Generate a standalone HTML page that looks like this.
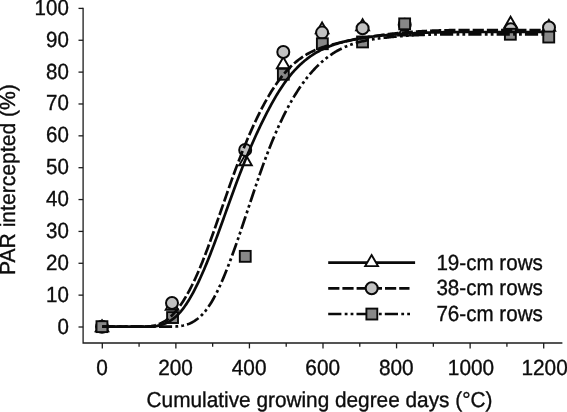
<!DOCTYPE html>
<html><head><meta charset="utf-8"><title>PAR intercepted</title>
<style>
html,body{margin:0;padding:0;background:#fff;}
body{width:567px;height:412px;overflow:hidden;font-family:"Liberation Sans",sans-serif;}
svg{display:block;will-change:transform;opacity:0.999;}
text{font-family:"Liberation Sans",sans-serif;fill:#0c0c0c;stroke:#0c0c0c;stroke-width:0.35px;text-rendering:geometricPrecision;}
</style></head><body>
<svg width="567" height="412" viewBox="0 0 567 412">
<rect width="567" height="412" fill="#fff"/>
<g stroke="#1c1c1c" stroke-width="1.3" fill="none">
<path d="M83.1,7.8 L83.1,343.0 L562.4,343.0"/>
<path d="M78.5,327.00 L83.1,327.00"/>
<path d="M78.5,295.14 L83.1,295.14"/>
<path d="M78.5,263.28 L83.1,263.28"/>
<path d="M78.5,231.42 L83.1,231.42"/>
<path d="M78.5,199.56 L83.1,199.56"/>
<path d="M78.5,167.70 L83.1,167.70"/>
<path d="M78.5,135.84 L83.1,135.84"/>
<path d="M78.5,103.98 L83.1,103.98"/>
<path d="M78.5,72.12 L83.1,72.12"/>
<path d="M78.5,40.26 L83.1,40.26"/>
<path d="M78.5,8.40 L83.1,8.40"/>
<path d="M102.30,343.0 L102.30,348.4"/>
<path d="M139.08,343.0 L139.08,346.8"/>
<path d="M175.87,343.0 L175.87,348.4"/>
<path d="M212.65,343.0 L212.65,346.8"/>
<path d="M249.43,343.0 L249.43,348.4"/>
<path d="M286.21,343.0 L286.21,346.8"/>
<path d="M323.00,343.0 L323.00,348.4"/>
<path d="M359.78,343.0 L359.78,346.8"/>
<path d="M396.56,343.0 L396.56,348.4"/>
<path d="M433.35,343.0 L433.35,346.8"/>
<path d="M470.13,343.0 L470.13,348.4"/>
<path d="M506.91,343.0 L506.91,346.8"/>
<path d="M543.70,343.0 L543.70,348.4"/>
</g>
<text transform="translate(68.80,333.50) scale(0.94,1)" font-size="21.8" text-anchor="end">0</text>
<text transform="translate(68.80,301.64) scale(0.94,1)" font-size="21.8" text-anchor="end">10</text>
<text transform="translate(68.80,269.78) scale(0.94,1)" font-size="21.8" text-anchor="end">20</text>
<text transform="translate(68.80,237.92) scale(0.94,1)" font-size="21.8" text-anchor="end">30</text>
<text transform="translate(68.80,206.06) scale(0.94,1)" font-size="21.8" text-anchor="end">40</text>
<text transform="translate(68.80,174.20) scale(0.94,1)" font-size="21.8" text-anchor="end">50</text>
<text transform="translate(68.80,142.34) scale(0.94,1)" font-size="21.8" text-anchor="end">60</text>
<text transform="translate(68.80,110.48) scale(0.94,1)" font-size="21.8" text-anchor="end">70</text>
<text transform="translate(68.80,78.62) scale(0.94,1)" font-size="21.8" text-anchor="end">80</text>
<text transform="translate(68.80,46.76) scale(0.94,1)" font-size="21.8" text-anchor="end">90</text>
<text transform="translate(68.80,14.90) scale(0.94,1)" font-size="21.8" text-anchor="end">100</text>
<text transform="translate(102.00,374.90) scale(0.955,1)" font-size="21.8" text-anchor="middle">0</text>
<text transform="translate(175.57,374.90) scale(0.955,1)" font-size="21.8" text-anchor="middle">200</text>
<text transform="translate(249.13,374.90) scale(0.955,1)" font-size="21.8" text-anchor="middle">400</text>
<text transform="translate(322.70,374.90) scale(0.955,1)" font-size="21.8" text-anchor="middle">600</text>
<text transform="translate(396.26,374.90) scale(0.955,1)" font-size="21.8" text-anchor="middle">800</text>
<text transform="translate(471.03,374.90) scale(0.955,1)" font-size="21.8" text-anchor="middle">1000</text>
<text transform="translate(544.60,374.90) scale(0.955,1)" font-size="21.8" text-anchor="middle">1200</text>
<text transform="translate(319.50,407.40) scale(0.963,1)" font-size="21.6" text-anchor="middle">Cumulative growing degree days (°C)</text>
<text transform="translate(15.30,179.60) rotate(-90) scale(0.969,1)" font-size="21.8" text-anchor="middle">PAR intercepted (%)</text>
<path d="M102.0,320.3 L108.3,331.3 L95.7,331.3 Z" fill="#fff" stroke="#0a0a0a" stroke-width="1.9" stroke-linejoin="miter"/>
<path d="M172.0,298.8 L178.3,309.8 L165.7,309.8 Z" fill="#fff" stroke="#0a0a0a" stroke-width="1.9" stroke-linejoin="miter"/>
<path d="M245.5,154.3 L251.8,165.3 L239.2,165.3 Z" fill="#fff" stroke="#0a0a0a" stroke-width="1.9" stroke-linejoin="miter"/>
<path d="M283.3,57.2 L289.7,68.2 L276.9,68.2 Z" fill="#fff" stroke="#0a0a0a" stroke-width="1.9" stroke-linejoin="miter"/>
<path d="M322.1,22.4 L328.5,33.4 L315.8,33.4 Z" fill="#fff" stroke="#0a0a0a" stroke-width="1.9" stroke-linejoin="miter"/>
<path d="M362.6,19.2 L369.0,30.2 L356.2,30.2 Z" fill="#fff" stroke="#0a0a0a" stroke-width="1.9" stroke-linejoin="miter"/>
<path d="M404.5,24.6 L410.9,35.6 L398.1,35.6 Z" fill="#fff" stroke="#0a0a0a" stroke-width="1.9" stroke-linejoin="miter"/>
<path d="M510.6,16.7 L517.0,27.7 L504.2,27.7 Z" fill="#fff" stroke="#0a0a0a" stroke-width="1.9" stroke-linejoin="miter"/>
<path d="M548.9,19.9 L555.2,30.9 L542.5,30.9 Z" fill="#fff" stroke="#0a0a0a" stroke-width="1.9" stroke-linejoin="miter"/>
<circle cx="102.0" cy="326.7" r="6.0" fill="#c2c2c2" stroke="#0a0a0a" stroke-width="2.0"/>
<circle cx="172.0" cy="303.0" r="6.0" fill="#c2c2c2" stroke="#0a0a0a" stroke-width="2.0"/>
<circle cx="245.2" cy="149.9" r="6.0" fill="#c2c2c2" stroke="#0a0a0a" stroke-width="2.0"/>
<circle cx="283.3" cy="52.0" r="6.0" fill="#c2c2c2" stroke="#0a0a0a" stroke-width="2.0"/>
<circle cx="322.1" cy="32.6" r="6.0" fill="#c2c2c2" stroke="#0a0a0a" stroke-width="2.0"/>
<circle cx="362.6" cy="28.3" r="6.0" fill="#c2c2c2" stroke="#0a0a0a" stroke-width="2.0"/>
<circle cx="404.7" cy="24.8" r="6.0" fill="#c2c2c2" stroke="#0a0a0a" stroke-width="2.0"/>
<circle cx="510.7" cy="29.3" r="6.0" fill="#c2c2c2" stroke="#0a0a0a" stroke-width="2.0"/>
<circle cx="549.0" cy="27.5" r="6.0" fill="#c2c2c2" stroke="#0a0a0a" stroke-width="2.0"/>
<rect x="96.5" y="321.2" width="10.9" height="10.9" fill="#888" stroke="#0a0a0a" stroke-width="1.9"/>
<rect x="167.1" y="312.1" width="10.9" height="10.9" fill="#888" stroke="#0a0a0a" stroke-width="1.9"/>
<rect x="239.8" y="250.9" width="10.9" height="10.9" fill="#888" stroke="#0a0a0a" stroke-width="1.9"/>
<rect x="277.9" y="68.8" width="10.9" height="10.9" fill="#888" stroke="#0a0a0a" stroke-width="1.9"/>
<rect x="316.9" y="38.3" width="10.9" height="10.9" fill="#888" stroke="#0a0a0a" stroke-width="1.9"/>
<rect x="357.1" y="36.5" width="10.9" height="10.9" fill="#888" stroke="#0a0a0a" stroke-width="1.9"/>
<rect x="399.2" y="18.4" width="10.9" height="10.9" fill="#888" stroke="#0a0a0a" stroke-width="1.9"/>
<rect x="504.9" y="28.8" width="10.9" height="10.9" fill="#888" stroke="#0a0a0a" stroke-width="1.9"/>
<rect x="543.3" y="31.6" width="10.9" height="10.9" fill="#888" stroke="#0a0a0a" stroke-width="1.9"/>
<g fill="none" stroke="#0a0a0a" stroke-width="2.7">
<path d="M102.3,326.70 L103.3,326.70 L104.3,326.70 L105.3,326.70 L106.3,326.70 L107.3,326.70 L108.3,326.69 L109.3,326.68 L110.3,326.68 L111.3,326.67 L112.3,326.67 L113.3,326.66 L114.3,326.66 L115.3,326.66 L116.3,326.65 L117.3,326.65 L118.3,326.65 L119.3,326.65 L120.3,326.65 L121.3,326.65 L122.3,326.65 L123.3,326.65 L124.3,326.65 L125.3,326.65 L126.3,326.65 L127.3,326.65 L128.3,326.65 L129.3,326.65 L130.3,326.65 L131.3,326.65 L132.3,326.65 L133.3,326.65 L134.3,326.65 L135.3,326.65 L136.3,326.65 L137.3,326.65 L138.3,326.65 L139.3,326.65 L140.3,326.65 L141.3,326.65 L142.3,326.65 L143.3,326.65 L144.3,326.65 L145.3,326.65 L146.3,326.65 L147.3,326.65 L148.3,326.65 L149.3,326.65 L150.3,326.65 L151.3,326.65 L152.3,326.65 L153.3,326.65 L154.3,326.65 L155.3,326.65 L156.3,326.65 L157.3,326.65 L158.3,326.65 L159.3,326.65 L160.3,326.65 L161.3,326.65 L162.3,326.65 L163.3,326.65 L164.3,326.65 L165.3,326.65 L166.3,326.65 L167.3,326.65 L168.3,326.65 L169.3,326.65 L170.3,326.65 L171.3,326.65 L172.3,326.65 L173.3,326.63 L174.3,326.59 L175.3,326.54 L176.3,326.47 L177.3,326.39 L178.3,326.30 L179.3,326.18 L180.3,326.05 L181.3,325.89 L182.3,325.71 L183.3,325.51 L184.3,325.27 L185.3,325.01 L186.3,324.72 L187.3,324.39 L188.3,324.03 L189.3,323.64 L190.3,323.21 L191.3,322.74 L192.3,322.23 L193.3,321.67 L194.3,321.07 L195.3,320.43 L196.3,319.73 L197.3,318.99 L198.3,318.20 L199.3,317.35 L200.3,316.45 L201.3,315.49 L202.3,314.48 L203.3,313.40 L204.3,312.26 L205.3,311.06 L206.3,309.80 L207.3,308.46 L208.3,307.06 L209.3,305.59 L210.3,304.05 L211.3,302.43 L212.3,300.75 L213.3,299.00 L214.3,297.18 L215.3,295.30 L216.3,293.36 L217.3,291.36 L218.3,289.29 L219.3,287.17 L220.3,285.00 L221.3,282.77 L222.3,280.48 L223.3,278.15 L224.3,275.76 L225.3,273.33 L226.3,270.85 L227.3,268.32 L228.3,265.76 L229.3,263.15 L230.3,260.50 L231.3,257.81 L232.3,255.09 L233.3,252.33 L234.3,249.54 L235.3,246.72 L236.3,243.87 L237.3,240.99 L238.3,238.09 L239.3,235.16 L240.3,232.22 L241.3,229.26 L242.3,226.28 L243.3,223.29 L244.3,220.29 L245.3,217.28 L246.3,214.27 L247.3,211.26 L248.3,208.24 L249.3,205.22 L250.3,202.21 L251.3,199.20 L252.3,196.20 L253.3,193.21 L254.3,190.24 L255.3,187.28 L256.3,184.33 L257.3,181.41 L258.3,178.51 L259.3,175.63 L260.3,172.78 L261.3,169.95 L262.3,167.16 L263.3,164.40 L264.3,161.67 L265.3,158.98 L266.3,156.31 L267.3,153.68 L268.3,151.08 L269.3,148.52 L270.3,145.99 L271.3,143.49 L272.3,141.03 L273.3,138.61 L274.3,136.22 L275.3,133.87 L276.3,131.56 L277.3,129.28 L278.3,127.04 L279.3,124.84 L280.3,122.67 L281.3,120.55 L282.3,118.46 L283.3,116.41 L284.3,114.40 L285.3,112.42 L286.3,110.47 L287.3,108.57 L288.3,106.70 L289.3,104.86 L290.3,103.06 L291.3,101.29 L292.3,99.55 L293.3,97.85 L294.3,96.18 L295.3,94.55 L296.3,92.94 L297.3,91.37 L298.3,89.83 L299.3,88.33 L300.3,86.85 L301.3,85.40 L302.3,83.99 L303.3,82.60 L304.3,81.24 L305.3,79.92 L306.3,78.62 L307.3,77.35 L308.3,76.11 L309.3,74.89 L310.3,73.71 L311.3,72.55 L312.3,71.42 L313.3,70.31 L314.3,69.23 L315.3,68.18 L316.3,67.15 L317.3,66.14 L318.3,65.17 L319.3,64.21 L320.3,63.28 L321.3,62.37 L322.3,61.49 L323.3,60.63 L324.3,59.79 L325.3,58.98 L326.3,58.18 L327.3,57.41 L328.3,56.66 L329.3,55.93 L330.3,55.22 L331.3,54.53 L332.3,53.87 L333.3,53.22 L334.3,52.59 L335.3,51.97 L336.3,51.38 L337.3,50.80 L338.3,50.25 L339.3,49.71 L340.3,49.18 L341.3,48.68 L342.3,48.19 L343.3,47.71 L344.3,47.26 L345.3,46.81 L346.3,46.39 L347.3,45.97 L348.3,45.57 L349.3,45.19 L350.3,44.82 L351.3,44.46 L352.3,44.11 L353.3,43.78 L354.3,43.46 L355.3,43.15 L356.3,42.85 L357.3,42.57 L358.3,42.29 L359.3,42.03 L360.3,41.77 L361.3,41.53 L362.3,41.29 L363.3,41.06 L364.3,40.85 L365.3,40.64 L366.3,40.44 L367.3,40.24 L368.3,40.05 L369.3,39.87 L370.3,39.70 L371.3,39.53 L372.3,39.37 L373.3,39.22 L374.3,39.07 L375.3,38.92 L376.3,38.78 L377.3,38.65 L378.3,38.51 L379.3,38.38 L380.3,38.26 L381.3,38.13 L382.3,38.01 L383.3,37.89 L384.3,37.78 L385.3,37.66 L386.3,37.55 L387.3,37.44 L388.3,37.34 L389.3,37.23 L390.3,37.13 L391.3,37.03 L392.3,36.93 L393.3,36.83 L394.3,36.74 L395.3,36.65 L396.3,36.56 L397.3,36.47 L398.3,36.38 L399.3,36.30 L400.3,36.22 L401.3,36.14 L402.3,36.06 L403.3,35.99 L404.3,35.91 L405.3,35.84 L406.3,35.77 L407.3,35.70 L408.3,35.63 L409.3,35.57 L410.3,35.51 L411.3,35.45 L412.3,35.39 L413.3,35.33 L414.3,35.27 L415.3,35.22 L416.3,35.17 L417.3,35.11 L418.3,35.07 L419.3,35.02 L420.3,34.97 L421.3,34.93 L422.3,34.88 L423.3,34.84 L424.3,34.80 L425.3,34.76 L426.3,34.72 L427.3,34.69 L428.3,34.65 L429.3,34.62 L430.3,34.59 L431.3,34.56 L432.3,34.53 L433.3,34.50 L434.3,34.47 L435.3,34.45 L436.3,34.43 L437.3,34.40 L438.3,34.38 L439.3,34.36 L440.3,34.34 L441.3,34.32 L442.3,34.30 L443.3,34.30 L444.3,34.30 L445.3,34.30 L446.3,34.30 L447.3,34.30 L448.3,34.30 L449.3,34.30 L450.3,34.30 L451.3,34.30 L452.3,34.30 L453.3,34.30 L454.3,34.30 L455.3,34.30 L456.3,34.30 L457.3,34.30 L458.3,34.30 L459.3,34.30 L460.3,34.30 L461.3,34.30 L462.3,34.30 L463.3,34.30 L464.3,34.30 L465.3,34.30 L466.3,34.30 L467.3,34.30 L468.3,34.30 L469.3,34.30 L470.3,34.30 L471.3,34.30 L472.3,34.30 L473.3,34.30 L474.3,34.30 L475.3,34.30 L476.3,34.30 L477.3,34.30 L478.3,34.30 L479.3,34.30 L480.3,34.30 L481.3,34.30 L482.3,34.30 L483.3,34.30 L484.3,34.30 L485.3,34.30 L486.3,34.30 L487.3,34.30 L488.3,34.30 L489.3,34.30 L490.3,34.30 L491.3,34.30 L492.3,34.30 L493.3,34.30 L494.3,34.30 L495.3,34.30 L496.3,34.30 L497.3,34.30 L498.3,34.30 L499.3,34.30 L500.3,34.30 L501.3,34.30 L502.3,34.30 L503.3,34.30 L504.3,34.30 L505.3,34.30 L506.3,34.30 L507.3,34.30 L508.3,34.30 L509.3,34.30 L510.3,34.30 L511.3,34.30 L512.3,34.30 L513.3,34.30 L514.3,34.30 L515.3,34.30 L516.3,34.30 L517.3,34.30 L518.3,34.30 L519.3,34.30 L520.3,34.30 L521.3,34.30 L522.3,34.30 L523.3,34.30 L524.3,34.30 L525.3,34.30 L526.3,34.30 L527.3,34.30 L528.3,34.30 L529.3,34.30 L530.3,34.30 L531.3,34.30 L532.3,34.30 L533.3,34.30 L534.3,34.30 L535.3,34.30 L536.3,34.30 L537.3,34.30 L538.3,34.30 L539.3,34.30 L540.3,34.30 L541.3,34.30 L542.3,34.30 L543.3,34.30 L544.3,34.30" stroke-dasharray="13.2 3.3 2.8 3.1 2.8 3.1"/>
<path d="M102.3,326.70 L103.3,326.70 L104.3,326.70 L105.3,326.70 L106.3,326.67 L107.3,326.64 L108.3,326.62 L109.3,326.61 L110.3,326.59 L111.3,326.58 L112.3,326.57 L113.3,326.57 L114.3,326.56 L115.3,326.56 L116.3,326.56 L117.3,326.56 L118.3,326.56 L119.3,326.56 L120.3,326.56 L121.3,326.56 L122.3,326.56 L123.3,326.56 L124.3,326.56 L125.3,326.56 L126.3,326.56 L127.3,326.56 L128.3,326.56 L129.3,326.56 L130.3,326.56 L131.3,326.56 L132.3,326.56 L133.3,326.56 L134.3,326.56 L135.3,326.56 L136.3,326.56 L137.3,326.56 L138.3,326.56 L139.3,326.56 L140.3,326.56 L141.3,326.56 L142.3,326.56 L143.3,326.56 L144.3,326.56 L145.3,326.56 L146.3,326.56 L147.3,326.56 L148.3,326.52 L149.3,326.41 L150.3,326.28 L151.3,326.13 L152.3,325.95 L153.3,325.75 L154.3,325.52 L155.3,325.27 L156.3,324.98 L157.3,324.67 L158.3,324.32 L159.3,323.93 L160.3,323.51 L161.3,323.05 L162.3,322.55 L163.3,322.01 L164.3,321.43 L165.3,320.80 L166.3,320.13 L167.3,319.41 L168.3,318.64 L169.3,317.82 L170.3,316.94 L171.3,316.02 L172.3,315.04 L173.3,314.01 L174.3,312.93 L175.3,311.80 L176.3,310.61 L177.3,309.38 L178.3,308.09 L179.3,306.75 L180.3,305.37 L181.3,303.93 L182.3,302.44 L183.3,300.90 L184.3,299.30 L185.3,297.66 L186.3,295.97 L187.3,294.23 L188.3,292.43 L189.3,290.59 L190.3,288.70 L191.3,286.75 L192.3,284.76 L193.3,282.72 L194.3,280.62 L195.3,278.48 L196.3,276.29 L197.3,274.05 L198.3,271.76 L199.3,269.42 L200.3,267.04 L201.3,264.61 L202.3,262.13 L203.3,259.62 L204.3,257.07 L205.3,254.48 L206.3,251.85 L207.3,249.20 L208.3,246.51 L209.3,243.80 L210.3,241.06 L211.3,238.29 L212.3,235.50 L213.3,232.70 L214.3,229.87 L215.3,227.03 L216.3,224.17 L217.3,221.31 L218.3,218.43 L219.3,215.55 L220.3,212.66 L221.3,209.76 L222.3,206.87 L223.3,203.98 L224.3,201.09 L225.3,198.20 L226.3,195.32 L227.3,192.45 L228.3,189.60 L229.3,186.75 L230.3,183.92 L231.3,181.11 L232.3,178.32 L233.3,175.54 L234.3,172.80 L235.3,170.07 L236.3,167.38 L237.3,164.71 L238.3,162.07 L239.3,159.46 L240.3,156.88 L241.3,154.32 L242.3,151.79 L243.3,149.29 L244.3,146.82 L245.3,144.38 L246.3,141.97 L247.3,139.58 L248.3,137.23 L249.3,134.90 L250.3,132.61 L251.3,130.34 L252.3,128.11 L253.3,125.90 L254.3,123.73 L255.3,121.58 L256.3,119.47 L257.3,117.39 L258.3,115.33 L259.3,113.31 L260.3,111.33 L261.3,109.37 L262.3,107.44 L263.3,105.55 L264.3,103.69 L265.3,101.86 L266.3,100.07 L267.3,98.30 L268.3,96.57 L269.3,94.88 L270.3,93.21 L271.3,91.58 L272.3,89.99 L273.3,88.42 L274.3,86.89 L275.3,85.40 L276.3,83.94 L277.3,82.51 L278.3,81.12 L279.3,79.77 L280.3,78.45 L281.3,77.16 L282.3,75.91 L283.3,74.69 L284.3,73.50 L285.3,72.35 L286.3,71.23 L287.3,70.14 L288.3,69.08 L289.3,68.05 L290.3,67.05 L291.3,66.08 L292.3,65.14 L293.3,64.22 L294.3,63.33 L295.3,62.47 L296.3,61.64 L297.3,60.83 L298.3,60.05 L299.3,59.29 L300.3,58.56 L301.3,57.85 L302.3,57.16 L303.3,56.49 L304.3,55.85 L305.3,55.23 L306.3,54.62 L307.3,54.04 L308.3,53.48 L309.3,52.94 L310.3,52.41 L311.3,51.91 L312.3,51.42 L313.3,50.95 L314.3,50.49 L315.3,50.05 L316.3,49.63 L317.3,49.22 L318.3,48.82 L319.3,48.44 L320.3,48.07 L321.3,47.71 L322.3,47.37 L323.3,47.03 L324.3,46.71 L325.3,46.40 L326.3,46.09 L327.3,45.80 L328.3,45.51 L329.3,45.24 L330.3,44.97 L331.3,44.70 L332.3,44.45 L333.3,44.19 L334.3,43.95 L335.3,43.71 L336.3,43.47 L337.3,43.24 L338.3,43.01 L339.3,42.78 L340.3,42.55 L341.3,42.33 L342.3,42.10 L343.3,41.88 L344.3,41.67 L345.3,41.45 L346.3,41.24 L347.3,41.03 L348.3,40.82 L349.3,40.61 L350.3,40.40 L351.3,40.20 L352.3,40.00 L353.3,39.80 L354.3,39.60 L355.3,39.41 L356.3,39.21 L357.3,39.02 L358.3,38.83 L359.3,38.65 L360.3,38.46 L361.3,38.28 L362.3,38.10 L363.3,37.92 L364.3,37.75 L365.3,37.57 L366.3,37.40 L367.3,37.23 L368.3,37.06 L369.3,36.90 L370.3,36.74 L371.3,36.57 L372.3,36.42 L373.3,36.26 L374.3,36.10 L375.3,35.95 L376.3,35.80 L377.3,35.65 L378.3,35.51 L379.3,35.36 L380.3,35.22 L381.3,35.08 L382.3,34.94 L383.3,34.81 L384.3,34.68 L385.3,34.55 L386.3,34.42 L387.3,34.29 L388.3,34.17 L389.3,34.04 L390.3,33.92 L391.3,33.81 L392.3,33.69 L393.3,33.58 L394.3,33.47 L395.3,33.36 L396.3,33.25 L397.3,33.15 L398.3,33.05 L399.3,32.95 L400.3,32.85 L401.3,32.75 L402.3,32.66 L403.3,32.57 L404.3,32.48 L405.3,32.39 L406.3,32.30 L407.3,32.22 L408.3,32.14 L409.3,32.06 L410.3,31.98 L411.3,31.91 L412.3,31.83 L413.3,31.76 L414.3,31.69 L415.3,31.62 L416.3,31.55 L417.3,31.49 L418.3,31.43 L419.3,31.36 L420.3,31.30 L421.3,31.25 L422.3,31.19 L423.3,31.14 L424.3,31.08 L425.3,31.03 L426.3,30.98 L427.3,30.93 L428.3,30.88 L429.3,30.84 L430.3,30.80 L431.3,30.75 L432.3,30.71 L433.3,30.67 L434.3,30.63 L435.3,30.60 L436.3,30.56 L437.3,30.53 L438.3,30.49 L439.3,30.46 L440.3,30.43 L441.3,30.40 L442.3,30.38 L443.3,30.35 L444.3,30.32 L445.3,30.30 L446.3,30.28 L447.3,30.25 L448.3,30.23 L449.3,30.21 L450.3,30.20 L451.3,30.18 L452.3,30.16 L453.3,30.14 L454.3,30.13 L455.3,30.12 L456.3,30.10 L457.3,30.10 L458.3,30.10 L459.3,30.10 L460.3,30.10 L461.3,30.10 L462.3,30.10 L463.3,30.10 L464.3,30.10 L465.3,30.10 L466.3,30.10 L467.3,30.10 L468.3,30.10 L469.3,30.10 L470.3,30.10 L471.3,30.10 L472.3,30.10 L473.3,30.10 L474.3,30.10 L475.3,30.10 L476.3,30.10 L477.3,30.10 L478.3,30.10 L479.3,30.10 L480.3,30.10 L481.3,30.10 L482.3,30.10 L483.3,30.10 L484.3,30.10 L485.3,30.10 L486.3,30.10 L487.3,30.10 L488.3,30.10 L489.3,30.10 L490.3,30.10 L491.3,30.10 L492.3,30.10 L493.3,30.10 L494.3,30.10 L495.3,30.10 L496.3,30.10 L497.3,30.10 L498.3,30.10 L499.3,30.10 L500.3,30.10 L501.3,30.10 L502.3,30.10 L503.3,30.10 L504.3,30.10 L505.3,30.10 L506.3,30.10 L507.3,30.10 L508.3,30.10 L509.3,30.10 L510.3,30.10 L511.3,30.10 L512.3,30.10 L513.3,30.10 L514.3,30.10 L515.3,30.10 L516.3,30.10 L517.3,30.10 L518.3,30.10 L519.3,30.10 L520.3,30.10 L521.3,30.10 L522.3,30.10 L523.3,30.10 L524.3,30.10 L525.3,30.10 L526.3,30.10 L527.3,30.10 L528.3,30.10 L529.3,30.10 L530.3,30.10 L531.3,30.10 L532.3,30.10 L533.3,30.10 L534.3,30.10 L535.3,30.10 L536.3,30.10 L537.3,30.10 L538.3,30.10 L539.3,30.10 L540.3,30.10 L541.3,30.10 L542.3,30.10 L543.3,30.10 L544.3,30.10" stroke-dasharray="11.2 3"/>
<path d="M102.3,326.68 L103.3,326.68 L104.3,326.68 L105.3,326.68 L106.3,326.68 L107.3,326.68 L108.3,326.68 L109.3,326.68 L110.3,326.68 L111.3,326.68 L112.3,326.68 L113.3,326.68 L114.3,326.68 L115.3,326.68 L116.3,326.68 L117.3,326.68 L118.3,326.68 L119.3,326.68 L120.3,326.68 L121.3,326.67 L122.3,326.66 L123.3,326.66 L124.3,326.65 L125.3,326.64 L126.3,326.63 L127.3,326.63 L128.3,326.62 L129.3,326.62 L130.3,326.62 L131.3,326.62 L132.3,326.62 L133.3,326.62 L134.3,326.62 L135.3,326.62 L136.3,326.62 L137.3,326.62 L138.3,326.62 L139.3,326.62 L140.3,326.62 L141.3,326.62 L142.3,326.62 L143.3,326.62 L144.3,326.62 L145.3,326.62 L146.3,326.62 L147.3,326.62 L148.3,326.62 L149.3,326.62 L150.3,326.62 L151.3,326.62 L152.3,326.54 L153.3,326.45 L154.3,326.34 L155.3,326.20 L156.3,326.05 L157.3,325.87 L158.3,325.66 L159.3,325.43 L160.3,325.18 L161.3,324.89 L162.3,324.58 L163.3,324.23 L164.3,323.84 L165.3,323.43 L166.3,322.98 L167.3,322.49 L168.3,321.96 L169.3,321.39 L170.3,320.77 L171.3,320.12 L172.3,319.42 L173.3,318.67 L174.3,317.88 L175.3,317.03 L176.3,316.14 L177.3,315.19 L178.3,314.19 L179.3,313.14 L180.3,312.03 L181.3,310.86 L182.3,309.63 L183.3,308.34 L184.3,306.99 L185.3,305.58 L186.3,304.12 L187.3,302.59 L188.3,301.01 L189.3,299.37 L190.3,297.68 L191.3,295.93 L192.3,294.13 L193.3,292.28 L194.3,290.39 L195.3,288.44 L196.3,286.44 L197.3,284.40 L198.3,282.32 L199.3,280.19 L200.3,278.01 L201.3,275.80 L202.3,273.54 L203.3,271.25 L204.3,268.92 L205.3,266.54 L206.3,264.14 L207.3,261.69 L208.3,259.22 L209.3,256.71 L210.3,254.17 L211.3,251.60 L212.3,249.00 L213.3,246.38 L214.3,243.74 L215.3,241.07 L216.3,238.38 L217.3,235.68 L218.3,232.96 L219.3,230.22 L220.3,227.47 L221.3,224.71 L222.3,221.94 L223.3,219.17 L224.3,216.39 L225.3,213.61 L226.3,210.82 L227.3,208.04 L228.3,205.26 L229.3,202.48 L230.3,199.71 L231.3,196.95 L232.3,194.20 L233.3,191.46 L234.3,188.73 L235.3,186.02 L236.3,183.32 L237.3,180.65 L238.3,177.99 L239.3,175.36 L240.3,172.75 L241.3,170.17 L242.3,167.62 L243.3,165.09 L244.3,162.59 L245.3,160.11 L246.3,157.66 L247.3,155.24 L248.3,152.84 L249.3,150.47 L250.3,148.12 L251.3,145.80 L252.3,143.50 L253.3,141.23 L254.3,138.98 L255.3,136.76 L256.3,134.56 L257.3,132.39 L258.3,130.24 L259.3,128.12 L260.3,126.02 L261.3,123.94 L262.3,121.89 L263.3,119.86 L264.3,117.85 L265.3,115.87 L266.3,113.91 L267.3,111.98 L268.3,110.07 L269.3,108.18 L270.3,106.31 L271.3,104.47 L272.3,102.66 L273.3,100.87 L274.3,99.11 L275.3,97.38 L276.3,95.68 L277.3,94.01 L278.3,92.37 L279.3,90.76 L280.3,89.19 L281.3,87.65 L282.3,86.15 L283.3,84.68 L284.3,83.25 L285.3,81.85 L286.3,80.49 L287.3,79.15 L288.3,77.85 L289.3,76.59 L290.3,75.35 L291.3,74.14 L292.3,72.97 L293.3,71.82 L294.3,70.70 L295.3,69.62 L296.3,68.56 L297.3,67.53 L298.3,66.52 L299.3,65.55 L300.3,64.60 L301.3,63.67 L302.3,62.78 L303.3,61.90 L304.3,61.05 L305.3,60.23 L306.3,59.43 L307.3,58.65 L308.3,57.90 L309.3,57.16 L310.3,56.45 L311.3,55.76 L312.3,55.09 L313.3,54.44 L314.3,53.81 L315.3,53.20 L316.3,52.61 L317.3,52.04 L318.3,51.48 L319.3,50.94 L320.3,50.42 L321.3,49.91 L322.3,49.42 L323.3,48.95 L324.3,48.49 L325.3,48.04 L326.3,47.61 L327.3,47.19 L328.3,46.78 L329.3,46.39 L330.3,46.01 L331.3,45.64 L332.3,45.28 L333.3,44.93 L334.3,44.59 L335.3,44.26 L336.3,43.94 L337.3,43.62 L338.3,43.32 L339.3,43.02 L340.3,42.73 L341.3,42.45 L342.3,42.17 L343.3,41.90 L344.3,41.64 L345.3,41.39 L346.3,41.14 L347.3,40.90 L348.3,40.66 L349.3,40.44 L350.3,40.21 L351.3,40.00 L352.3,39.79 L353.3,39.58 L354.3,39.38 L355.3,39.19 L356.3,39.00 L357.3,38.81 L358.3,38.64 L359.3,38.46 L360.3,38.29 L361.3,38.13 L362.3,37.97 L363.3,37.81 L364.3,37.66 L365.3,37.52 L366.3,37.37 L367.3,37.23 L368.3,37.10 L369.3,36.96 L370.3,36.84 L371.3,36.71 L372.3,36.59 L373.3,36.47 L374.3,36.35 L375.3,36.24 L376.3,36.13 L377.3,36.02 L378.3,35.91 L379.3,35.81 L380.3,35.70 L381.3,35.60 L382.3,35.51 L383.3,35.41 L384.3,35.31 L385.3,35.22 L386.3,35.13 L387.3,35.04 L388.3,34.95 L389.3,34.86 L390.3,34.78 L391.3,34.69 L392.3,34.61 L393.3,34.53 L394.3,34.45 L395.3,34.38 L396.3,34.30 L397.3,34.23 L398.3,34.15 L399.3,34.08 L400.3,34.01 L401.3,33.94 L402.3,33.88 L403.3,33.81 L404.3,33.75 L405.3,33.69 L406.3,33.62 L407.3,33.56 L408.3,33.51 L409.3,33.45 L410.3,33.39 L411.3,33.34 L412.3,33.29 L413.3,33.23 L414.3,33.18 L415.3,33.14 L416.3,33.09 L417.3,33.04 L418.3,33.00 L419.3,32.95 L420.3,32.91 L421.3,32.87 L422.3,32.83 L423.3,32.79 L424.3,32.75 L425.3,32.71 L426.3,32.67 L427.3,32.64 L428.3,32.60 L429.3,32.57 L430.3,32.54 L431.3,32.51 L432.3,32.48 L433.3,32.45 L434.3,32.42 L435.3,32.39 L436.3,32.37 L437.3,32.34 L438.3,32.32 L439.3,32.30 L440.3,32.27 L441.3,32.25 L442.3,32.23 L443.3,32.21 L444.3,32.19 L445.3,32.17 L446.3,32.16 L447.3,32.14 L448.3,32.12 L449.3,32.11 L450.3,32.10 L451.3,32.08 L452.3,32.07 L453.3,32.06 L454.3,32.05 L455.3,32.03 L456.3,32.02 L457.3,32.02 L458.3,32.01 L459.3,32.00 L460.3,32.00 L461.3,32.00 L462.3,32.00 L463.3,32.00 L464.3,32.00 L465.3,32.00 L466.3,32.00 L467.3,32.00 L468.3,32.00 L469.3,32.00 L470.3,32.00 L471.3,32.00 L472.3,32.00 L473.3,32.00 L474.3,32.00 L475.3,32.00 L476.3,32.00 L477.3,32.00 L478.3,32.00 L479.3,32.00 L480.3,32.00 L481.3,32.00 L482.3,32.00 L483.3,32.00 L484.3,32.00 L485.3,32.00 L486.3,32.00 L487.3,32.00 L488.3,32.00 L489.3,32.00 L490.3,32.00 L491.3,32.00 L492.3,32.00 L493.3,32.00 L494.3,32.00 L495.3,32.00 L496.3,32.00 L497.3,32.00 L498.3,32.00 L499.3,32.00 L500.3,32.00 L501.3,32.00 L502.3,32.00 L503.3,32.00 L504.3,32.00 L505.3,32.00 L506.3,32.00 L507.3,32.00 L508.3,32.00 L509.3,32.00 L510.3,32.00 L511.3,32.00 L512.3,32.00 L513.3,32.00 L514.3,32.00 L515.3,32.00 L516.3,32.00 L517.3,32.00 L518.3,32.00 L519.3,32.00 L520.3,32.00 L521.3,32.00 L522.3,32.00 L523.3,32.00 L524.3,32.00 L525.3,32.00 L526.3,32.00 L527.3,32.00 L528.3,32.00 L529.3,32.00 L530.3,32.00 L531.3,32.00 L532.3,32.00 L533.3,32.00 L534.3,32.00 L535.3,32.00 L536.3,32.00 L537.3,32.00 L538.3,32.00 L539.3,32.00 L540.3,32.00 L541.3,32.00 L542.3,32.00 L543.3,32.00 L544.3,32.00"/>
</g>
<g fill="none" stroke="#0a0a0a" stroke-width="2.7">
<path d="M328.2,262.6 L415.1,262.6"/>
<path d="M328.2,288.3 L409.5,288.3" stroke-dasharray="11.2 3"/>
<path d="M328.2,314.0 L410,314.0" stroke-dasharray="13.2 3.3 2.8 3.1 2.8 3.1"/>
</g>
<path d="M371.6,255.1 L378.0,266.1 L365.2,266.1 Z" fill="#fff" stroke="#0a0a0a" stroke-width="1.9" stroke-linejoin="miter"/>
<circle cx="371.7" cy="288.2" r="6.0" fill="#c2c2c2" stroke="#0a0a0a" stroke-width="2.0"/>
<rect x="366.4" y="308.6" width="10.9" height="10.9" fill="#888" stroke="#0a0a0a" stroke-width="1.9"/>
<text transform="translate(436.40,270.20) scale(0.945,1)" font-size="21.8" text-anchor="start">19-cm rows</text>
<text transform="translate(436.40,295.30) scale(0.945,1)" font-size="21.8" text-anchor="start">38-cm rows</text>
<text transform="translate(436.40,320.60) scale(0.945,1)" font-size="21.8" text-anchor="start">76-cm rows</text>
</svg></body></html>
